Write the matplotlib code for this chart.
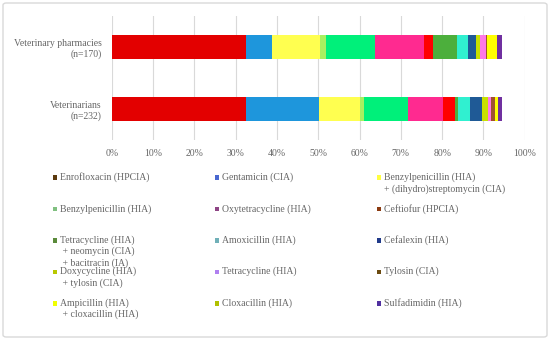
import matplotlib.pyplot as plt
import numpy as np
from matplotlib.patches import FancyBboxPatch, Rectangle

# Groups (top to bottom)
groups = ['Veterinary pharmacies\n(n=170)', 'Veterinarians\n(n=232)']

# Antimicrobials, in legend order (row by row)
drugs = [
    'Enrofloxacin (HPCIA)',
    'Gentamicin (CIA)',
    'Benzylpenicillin (HIA)\n+ (dihydro)streptomycin (CIA)',
    'Benzylpenicillin (HIA)',
    'Oxytetracycline (HIA)',
    'Ceftiofur (HPCIA)',
    'Tetracycline (HIA)\n + neomycin (CIA)\n + bacitracin (IA)',
    'Amoxicillin (HIA)',
    'Cefalexin (HIA)',
    'Doxycycline (HIA)\n + tylosin (CIA)',
    'Tetracycline (HIA)',
    'Tylosin (CIA)',
    'Ampicillin (HIA)\n + cloxacillin (HIA)',
    'Cloxacillin (HIA)',
    'Sulfadimidin (HIA)',
]

# Share of answers (%)
pharmacies = [32.5, 6.3, 11.6, 1.6, 11.7, 11.9, 2.2, 5.7, 2.8, 1.8, 1.0, 1.4, 0.4, 2.4, 1.3]
veterinarians = [32.4, 17.8, 10.0, 1.0, 10.6, 8.5, 2.8, 0.7, 3.0, 2.8, 1.4, 0.8, 1.0, 0.8, 0.8]

# Bar colours as drawn
bar_colors = ['#E30000', '#1E96DC', '#FFFF50', '#A8F060', '#00F07A', '#FF2A90',
              '#FF0000', '#4CAF3C', '#30F0D0', '#1F5A96', '#C8E000', '#FF78E6',
              '#A0522D', '#FFFF00', '#7030A0']
# Legend swatch colours as drawn
legend_colors = ['#5C3A0E', '#4A68D0', '#FFFF40', '#80C080', '#8E4585', '#8B3A10',
                 '#5A8A3A', '#70B0B8', '#203A8A', '#B8C800', '#B080F0', '#6B4A10',
                 '#F0FF00', '#B0C000', '#5030A0']

text_color = '#666666'
plt.rcParams['font.family'] = ['Liberation Serif', 'DejaVu Serif']
fs = 7

fig = plt.figure(figsize=(5.5, 3.41), dpi=100)
ax = fig.add_axes([0.2031, 0.589, 0.751, 0.364])

data = np.array([pharmacies, veterinarians])
y = np.arange(len(groups))
left = np.zeros(len(groups))
for i in range(len(drugs)):
    ax.barh(y, data[:, i], left=left, height=0.39, color=bar_colors[i], edgecolor='none', zorder=2)
    left += data[:, i]

ax.set_xlim(0, 100)
ax.set_ylim(1.5, -0.5)
ax.set_xticks(np.arange(0, 101, 10))
ax.set_xticklabels([f'{t}%' for t in range(0, 101, 10)])
ax.set_yticks(y)
ax.set_yticklabels(groups, ha='right', multialignment='right')
ax.tick_params(length=0, colors=text_color, labelsize=fs)
ax.tick_params(axis='x', pad=6.5)
ax.tick_params(axis='y', pad=7)
ax.grid(axis='x', color='#D9D9D9', linewidth=0.8, zorder=0)
for s in ax.spines.values():
    s.set_visible(False)

# Manual legend: 3 columns, uniform rows
col_x = [55, 217, 379]
row_y0, row_dy = 177.7, 31.4
W, H = 550, 341
for k, (name, c) in enumerate(zip(drugs, legend_colors)):
    r, col = divmod(k, 3)
    px = col_x[col]
    py = row_y0 + r * row_dy
    fig.patches.append(Rectangle(((px - 2.3) / W, 1 - (py + 2.3) / H), 4.6 / W, 4.6 / H,
                                 transform=fig.transFigure, color=c, lw=0))
    fig.text((px + 5) / W, 1 - (py - 5.2) / H, name, ha='left', va='top',
             color=text_color, fontsize=fs, linespacing=1.25)

# Outer frame
fig.patches.append(FancyBboxPatch((3 / W, 4 / H), 544 / W, 334 / H,
                                  boxstyle='round,pad=0,rounding_size=0.006',
                                  transform=fig.transFigure, fill=False,
                                  edgecolor='#D9D9D9', linewidth=1))

fig.savefig('out.png', dpi=100)
